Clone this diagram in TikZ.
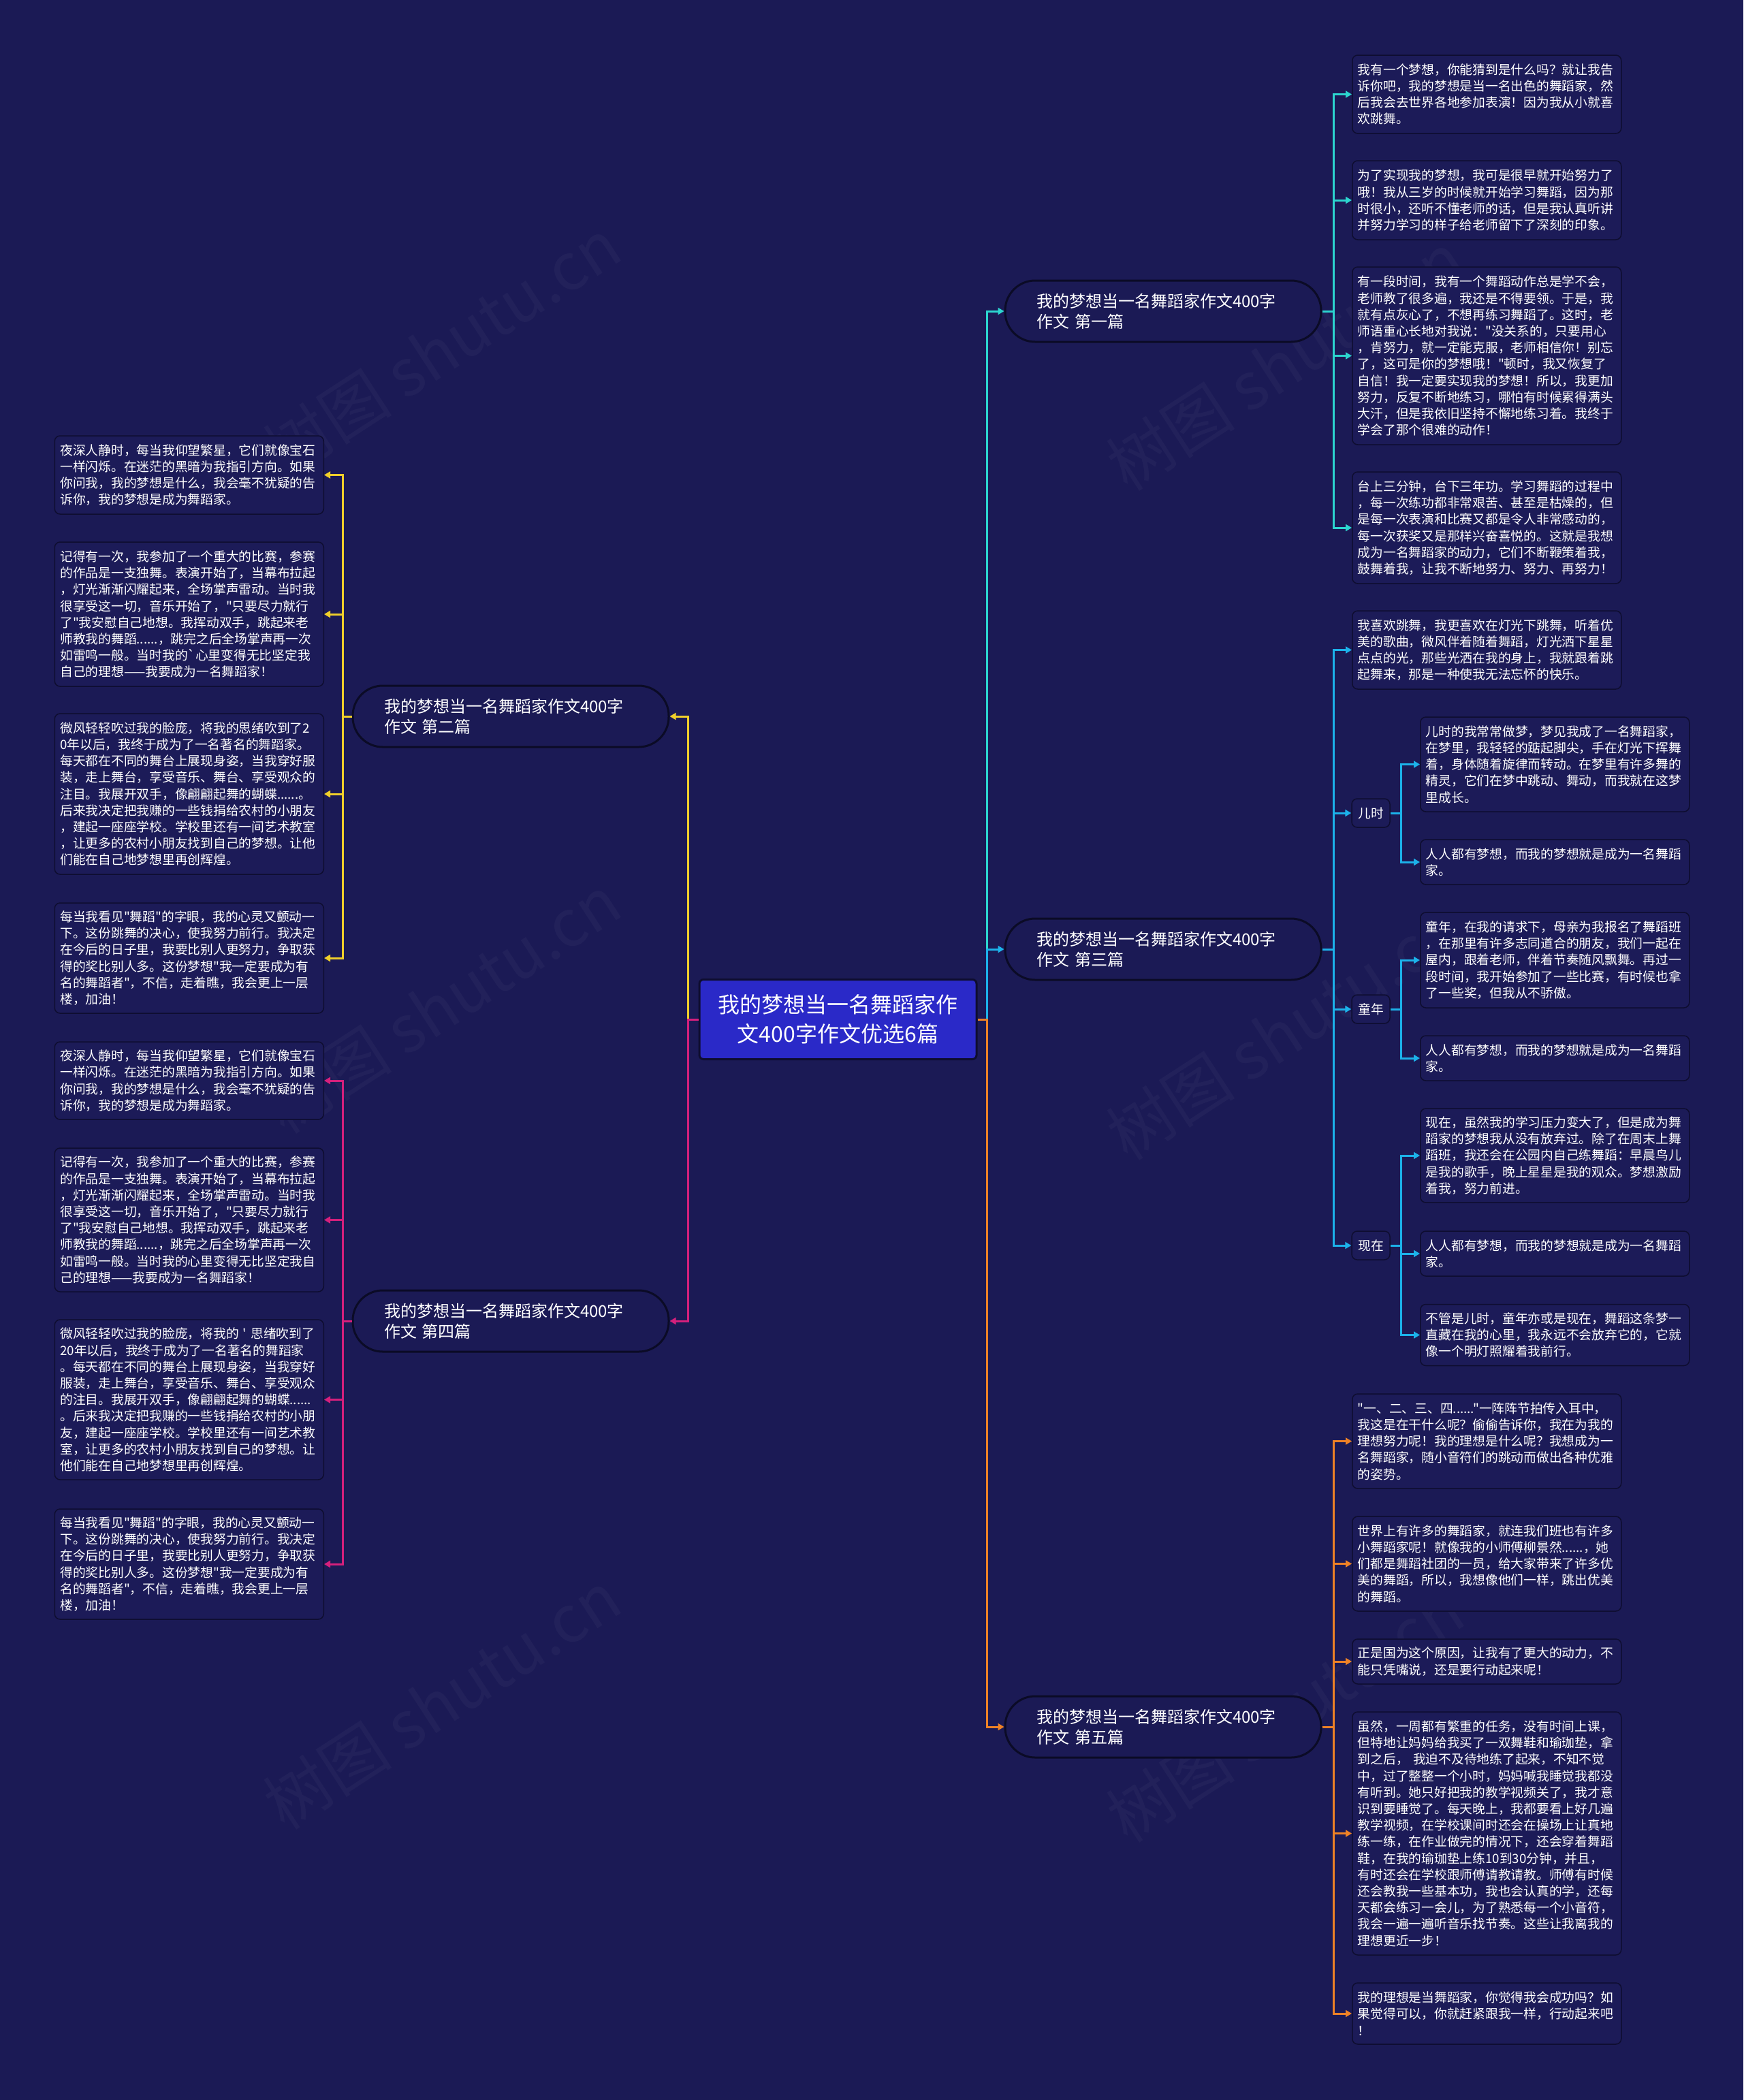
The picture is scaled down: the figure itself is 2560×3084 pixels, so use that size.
\documentclass[tikz,border=0pt]{standalone}
\usepackage{fontspec}
\newfontfamily\cjkf{Noto Sans CJK SC}
\usetikzlibrary{arrows.meta}
\definecolor{bg}{HTML}{1B1A55}
\definecolor{boxfill}{HTML}{1C1B58}
\definecolor{boxline}{HTML}{0E0D30}
\definecolor{brline}{HTML}{0B0B26}
\definecolor{rootfill}{HTML}{2A29C8}
\definecolor{cA}{HTML}{2CD5CF}
\definecolor{cB}{HTML}{1CB2EA}
\definecolor{cC}{HTML}{EE8226}
\definecolor{cD}{HTML}{F0CF2A}
\definecolor{cE}{HTML}{D5207C}
\begin{document}
\begin{tikzpicture}[x=1pt,y=-1pt,
  leaf/.style={draw=boxline, line width=1.5pt, fill=boxfill, rounded corners=8pt, text=white,
    text width=379pt, align=left, inner xsep=8pt, inner ysep=0pt,
    font=\cjkf\fontsize{18.75pt}{24.2pt}\selectfont},
  lab/.style={draw=boxline, line width=1.5pt, fill=boxfill, rounded corners=8pt, text=white,
    minimum width=56pt, minimum height=42pt, inner sep=0pt,
    font=\cjkf\fontsize{18.75pt}{22pt}\selectfont},
  br/.style={draw=brline, line width=3pt, fill=bg, rounded corners=44pt, text=white,
    text width=372pt, align=left, inner xsep=46pt, inner ysep=0pt, minimum height=90pt,
    font=\cjkf\fontsize{24pt}{30pt}\selectfont},
  rootn/.style={draw=boxline, line width=3pt, fill=rootfill, rounded corners=6pt, text=white,
    minimum width=407pt, minimum height=117pt, align=center, inner sep=0pt,
    font=\cjkf\fontsize{32pt}{43pt}\selectfont},
  conn/.style={line width=3pt, -{Triangle[length=9pt,width=10pt]}},
  wm/.style={text=white, opacity=0.03, font=\cjkf\fontsize{95pt}{100pt}\selectfont, rotate=33}
]
\fill[bg] (0,0) rectangle (2560,3084);

% watermark
\node[wm] (w1) at (649,511) {树图 shutu.cn};
\node[wm] (w2) at (649,1475) {树图 shutu.cn};
\node[wm] (w3) at (649,2497) {树图 shutu.cn};
\node[wm] (w4) at (1887,531) {树图 shutu.cn};
\node[wm] (w5) at (1887,1514) {树图 shutu.cn};
\node[wm] (w6) at (1887,2516) {树图 shutu.cn};

% root
\node[rootn] (root) at (1230.5,1497) {我的梦想当一名舞蹈家作\\文400字作文优选6篇};

% branches
\node[br] (b1) at (1708,457) {我的梦想当一名舞蹈家作文400字\\作文 第一篇};
\node[br] (b3) at (1708,1394) {我的梦想当一名舞蹈家作文400字\\作文 第三篇};
\node[br] (b5) at (1708,2536) {我的梦想当一名舞蹈家作文400字\\作文 第五篇};
\node[br] (b2) at (750,1052) {我的梦想当一名舞蹈家作文400字\\作文 第二篇};
\node[br] (b4) at (750,1940) {我的梦想当一名舞蹈家作文400字\\作文 第四篇};

% ---- 第一篇 leaves
\node[leaf, minimum height=115pt, anchor=west] (r11) at (1985,138.5) {我有一个梦想，你能猜到是什么吗？就让我告\\诉你吧，我的梦想是当一名出色的舞蹈家，然\\后我会去世界各地参加表演！因为我从小就喜\\欢跳舞。};
\node[leaf, minimum height=116pt, anchor=west] (r12) at (1985,294) {为了实现我的梦想，我可是很早就开始努力了\\哦！我从三岁的时候就开始学习舞蹈，因为那\\时很小，还听不懂老师的话，但是我认真听讲\\并努力学习的样子给老师留下了深刻的印象。};
\node[leaf, minimum height=261pt, anchor=west] (r13) at (1985,522.5) {有一段时间，我有一个舞蹈动作总是学不会，\\老师教了很多遍，我还是不得要领。于是，我\\就有点灰心了，不想再练习舞蹈了。这时，老\\师语重心长地对我说："没关系的，只要用心\\，肯努力，就一定能克服，老师相信你！别忘\\了，这可是你的梦想哦！"顿时，我又恢复了\\自信！我一定要实现我的梦想！所以，我更加\\努力，反复不断地练习，哪怕有时候累得满头\\大汗，但是我依旧坚持不懈地练习着。我终于\\学会了那个很难的动作！};
\node[leaf, minimum height=164pt, anchor=west] (r14) at (1985,775) {台上三分钟，台下三年功。学习舞蹈的过程中\\，每一次练功都非常艰苦、甚至是枯燥的，但\\是每一次表演和比赛又都是令人非常感动的，\\每一次获奖又是那样兴奋喜悦的。这就是我想\\成为一名舞蹈家的动力，它们不断鞭策着我，\\鼓舞着我，让我不断地努力、努力、再努力！};

% ---- 第三篇
\node[leaf, minimum height=115pt, anchor=west] (r31) at (1985,954.5) {我喜欢跳舞，我更喜欢在灯光下跳舞，听着优\\美的歌曲，微风伴着随着舞蹈，灯光洒下星星\\点点的光，那些光洒在我的身上，我就跟着跳\\起舞来，那是一种使我无法忘怀的快乐。};
\node[lab] (k1) at (2013,1194) {儿时};
\node[lab] (k2) at (2013,1482) {童年};
\node[lab] (k3) at (2013,1829) {现在};
\node[leaf, minimum height=139pt, anchor=west] (r321) at (2085,1122.5) {儿时的我常常做梦，梦见我成了一名舞蹈家，\\在梦里，我轻轻的踮起脚尖，手在灯光下挥舞\\着，身体随着旋律而转动。在梦里有许多舞的\\精灵，它们在梦中跳动、舞动，而我就在这梦\\里成长。};
\node[leaf, minimum height=66pt, anchor=west] (r322) at (2085,1266) {人人都有梦想，而我的梦想就是成为一名舞蹈\\家。};
\node[leaf, minimum height=140pt, anchor=west] (r331) at (2085,1410) {童年，在我的请求下，母亲为我报名了舞蹈班\\，在那里有许多志同道合的朋友，我们一起在\\屋内，跟着老师，伴着节奏随风飘舞。再过一\\段时间，我开始参加了一些比赛，有时候也拿\\了一些奖，但我从不骄傲。};
\node[leaf, minimum height=66pt, anchor=west] (r332) at (2085,1554) {人人都有梦想，而我的梦想就是成为一名舞蹈\\家。};
\node[leaf, minimum height=138pt, anchor=west] (r341) at (2085,1697) {现在，虽然我的学习压力变大了，但是成为舞\\蹈家的梦想我从没有放弃过。除了在周末上舞\\蹈班，我还会在公园内自己练舞蹈：早晨鸟儿\\是我的歌手，晚上星星是我的观众。梦想激励\\着我，努力前进。};
\node[leaf, minimum height=66pt, anchor=west] (r342) at (2085,1841) {人人都有梦想，而我的梦想就是成为一名舞蹈\\家。};
\node[leaf, minimum height=90pt, anchor=west] (r343) at (2085,1960.5) {不管是儿时，童年亦或是现在，舞蹈这条梦一\\直藏在我的心里，我永远不会放弃它的，它就\\像一个明灯照耀着我前行。};

% ---- 第五篇
\node[leaf, minimum height=139pt, anchor=west] (r51) at (1985,2116.5) {"一、二、三、四......"一阵阵节拍传入耳中，\\我这是在干什么呢？偷偷告诉你，我在为我的\\理想努力呢！我的理想是什么呢？我想成为一\\名舞蹈家，随小音符们的跳动而做出各种优雅\\的姿势。};
\node[leaf, minimum height=139pt, anchor=west] (r52) at (1985,2296.5) {世界上有许多的舞蹈家，就连我们班也有许多\\小舞蹈家呢！就像我的小师傅柳景然......，她\\们都是舞蹈社团的一员，给大家带来了许多优\\美的舞蹈，所以，我想像他们一样，跳出优美\\的舞蹈。};
\node[leaf, minimum height=66pt, anchor=west] (r53) at (1985,2440) {正是国为这个原因，让我有了更大的动力，不\\能只凭嘴说，还是要行动起来呢！};
\node[leaf, minimum height=357pt, anchor=west] (r54) at (1985,2692.5) {虽然，一周都有繁重的任务，没有时间上课，\\但特地让妈妈给我买了一双舞鞋和瑜珈垫，拿\\到之后， 我迫不及待地练了起来，不知不觉\\中，过了整整一个小时，妈妈喊我睡觉我都没\\有听到。她只好把我的教学视频关了，我才意\\识到要睡觉了。每天晚上，我都要看上好几遍\\教学视频，在学校课间时还会在操场上让真地\\练一练，在作业做完的情况下，还会穿着舞蹈\\鞋，在我的瑜珈垫上练10到30分钟，并且，\\有时还会在学校跟师傅请教请教。师傅有时候\\还会教我一些基本功，我也会认真的学，还每\\天都会练习一会儿，为了熟悉每一个小音符，\\我会一遍一遍听音乐找节奏。这些让我离我的\\理想更近一步！};
\node[leaf, minimum height=90pt, anchor=west] (r55) at (1985,2957) {我的理想是当舞蹈家，你觉得我会成功吗？如\\果觉得可以，你就赶紧跟我一样，行动起来吧\\！};

% ---- 第二篇 (left)
\node[leaf, minimum height=115pt, anchor=east] (l21) at (476,697.5) {夜深人静时，每当我仰望繁星，它们就像宝石\\一样闪烁。在迷茫的黑暗为我指引方向。如果\\你问我，我的梦想是什么，我会毫不犹疑的告\\诉你，我的梦想是成为舞蹈家。};
\node[leaf, minimum height=212pt, anchor=east] (l22) at (476,902) {记得有一次，我参加了一个重大的比赛，参赛\\的作品是一支独舞。表演开始了，当幕布拉起\\，灯光渐渐闪耀起来，全场掌声雷动。当时我\\很享受这一切，音乐开始了，"只要尽力就行\\了"我安慰自己地想。我挥动双手，跳起来老\\师教我的舞蹈......，跳完之后全场掌声再一次\\如雷鸣一般。当时我的`心里变得无比坚定我\\自己的理想——我要成为一名舞蹈家！};
\node[leaf, minimum height=236pt, anchor=east] (l23) at (476,1166) {微风轻轻吹过我的脸庞，将我的思绪吹到了2\\0年以后，我终于成为了一名著名的舞蹈家。\\每天都在不同的舞台上展现身姿，当我穿好服\\装，走上舞台，享受音乐、舞台、享受观众的\\注目。我展开双手，像翩翩起舞的蝴蝶......。\\后来我决定把我赚的一些钱捐给农村的小朋友\\，建起一座座学校。学校里还有一间艺术教室\\，让更多的农村小朋友找到自己的梦想。让他\\们能在自己地梦想里再创辉煌。};
\node[leaf, minimum height=162pt, anchor=east] (l24) at (476,1407) {每当我看见"舞蹈"的字眼，我的心灵又颤动一\\下。这份跳舞的决心，使我努力前行。我决定\\在今后的日子里，我要比别人更努力，争取获\\得的奖比别人多。这份梦想"我一定要成为有\\名的舞蹈者"，不信，走着瞧，我会更上一层\\楼，加油！};

% ---- 第四篇 (left)
\node[leaf, minimum height=114pt, anchor=east] (l41) at (476,1587) {夜深人静时，每当我仰望繁星，它们就像宝石\\一样闪烁。在迷茫的黑暗为我指引方向。如果\\你问我，我的梦想是什么，我会毫不犹疑的告\\诉你，我的梦想是成为舞蹈家。};
\node[leaf, minimum height=211pt, anchor=east] (l42) at (476,1791.5) {记得有一次，我参加了一个重大的比赛，参赛\\的作品是一支独舞。表演开始了，当幕布拉起\\，灯光渐渐闪耀起来，全场掌声雷动。当时我\\很享受这一切，音乐开始了，"只要尽力就行\\了"我安慰自己地想。我挥动双手，跳起来老\\师教我的舞蹈......，跳完之后全场掌声再一次\\如雷鸣一般。当时我的心里变得无比坚定我自\\己的理想——我要成为一名舞蹈家！};
\node[leaf, minimum height=235pt, anchor=east] (l43) at (476,2055.5) {微风轻轻吹过我的脸庞，将我的 ' 思绪吹到了\\20年以后，我终于成为了一名著名的舞蹈家\\。每天都在不同的舞台上展现身姿，当我穿好\\服装，走上舞台，享受音乐、舞台、享受观众\\的注目。我展开双手，像翩翩起舞的蝴蝶......\\。后来我决定把我赚的一些钱捐给农村的小朋\\友，建起一座座学校。学校里还有一间艺术教\\室，让更多的农村小朋友找到自己的梦想。让\\他们能在自己地梦想里再创辉煌。};
\node[leaf, minimum height=162pt, anchor=east] (l44) at (476,2297) {每当我看见"舞蹈"的字眼，我的心灵又颤动一\\下。这份跳舞的决心，使我努力前行。我决定\\在今后的日子里，我要比别人更努力，争取获\\得的奖比别人多。这份梦想"我一定要成为有\\名的舞蹈者"，不信，走着瞧，我会更上一层\\楼，加油！};

% ---- junctions
\coordinate (tR) at (1449,1497);
\coordinate (tL) at (1010,1497);
\coordinate (j1) at (1958,457);
\coordinate (j3) at (1958,1394);
\coordinate (j5) at (1958,2536);
\coordinate (j2) at (503,1052);
\coordinate (j4) at (503,1940);
\coordinate (m1) at (2057,1194);
\coordinate (m2) at (2057,1482);
\coordinate (m3) at (2057,1829);

% ---- connectors
\draw[conn,cA] (root.east) -- (tR) |- (b1.west);
\draw[conn,cB] (root.east) -- (tR) |- (b3.west);
\draw[conn,cC] (root.east) -- (tR) |- (b5.west);
\draw[conn,cD] (root.west) -- (tL) |- (b2.east);
\draw[conn,cE] (root.west) -- (tL) |- (b4.east);

\foreach \n in {r11,r12,r13,r14} \draw[conn,cA] (b1.east) -- (j1) |- (\n.west);
\foreach \n in {r31,k1,k2,k3} \draw[conn,cB] (b3.east) -- (j3) |- (\n.west);
\foreach \n in {r321,r322} \draw[conn,cB] (k1.east) -- (m1) |- (\n.west);
\foreach \n in {r331,r332} \draw[conn,cB] (k2.east) -- (m2) |- (\n.west);
\foreach \n in {r341,r342,r343} \draw[conn,cB] (k3.east) -- (m3) |- (\n.west);
\foreach \n in {r51,r52,r53,r54,r55} \draw[conn,cC] (b5.east) -- (j5) |- (\n.west);
\foreach \n in {l21,l22,l23,l24} \draw[conn,cD] (b2.west) -- (j2) |- (\n.east);
\foreach \n in {l41,l42,l43,l44} \draw[conn,cE] (b4.west) -- (j4) |- (\n.east);
\end{tikzpicture}
\end{document}
